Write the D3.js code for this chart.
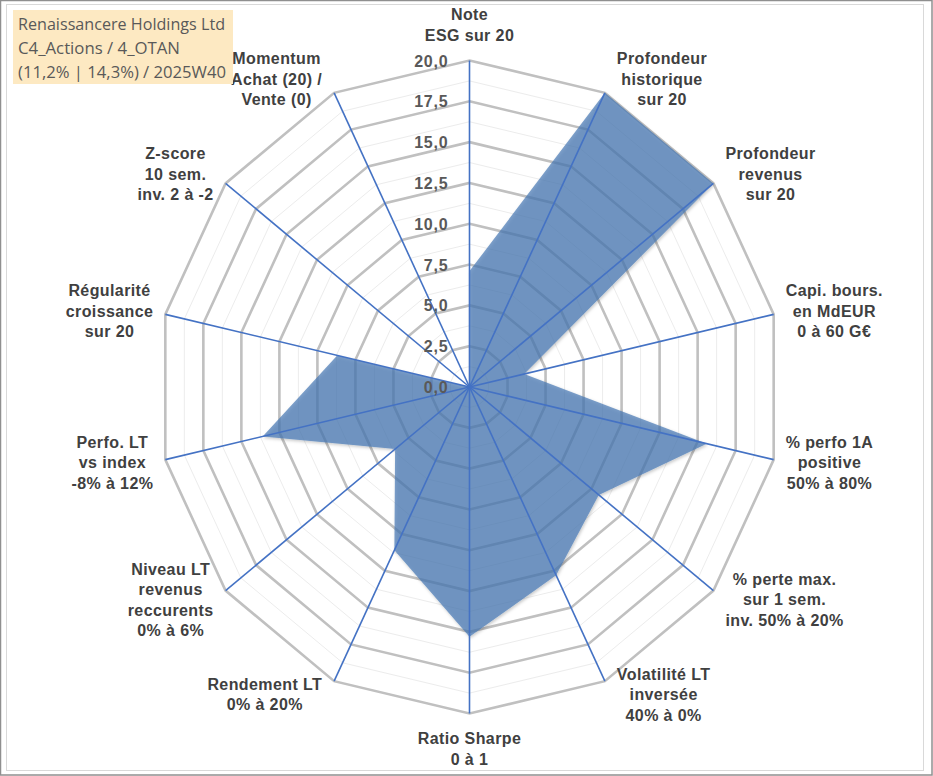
<!DOCTYPE html>
<html>
<head>
<meta charset="utf-8">
<script src="https://cdn.jsdelivr.net/npm/d3@7"></script>
<style>
  body { margin: 0; background: #fff; }
  svg { display: block; }
</style>
</head>
<body>
<div id="chart"></div>
<script>
// chart data
var titleLines = ["Renaissancere Holdings Ltd", "C4_Actions / 4_OTAN", "(11,2% | 14,3%) / 2025W40"];

var categories = [
	["Note", "ESG sur 20"],
	["Profondeur", "historique", "sur 20"],
	["Profondeur", "revenus", "sur 20"],
	["Capi. bours.", "en MdEUR", "0 à 60 G€"],
	["% perfo 1A", "positive", "50% à 80%"],
	["% perte max.", "sur 1 sem.", "inv. 50% à 20%"],
	["Volatilité LT", "inversée", "40% à 0%"],
	["Ratio Sharpe", "0 à 1"],
	["Rendement LT", "0% à 20%"],
	["Niveau LT", "revenus", "reccurents", "0% à 6%"],
	["Perfo. LT", "vs index", "-8% à 12%"],
	["Régularité", "croissance", "sur 20"],
	["Z-score", "10 sem.", "inv. 2 à -2"],
	["Momentum", "Achat (20) /", "Vente (0)"]
];

var scores = [7.1, 20, 20, 3.6, 15.6, 10.6, 12.8, 15.3, 11.1, 6.1, 13.6, 8.7, 0, 0];

var tickValues = [0, 2.5, 5, 7.5, 10, 12.5, 15, 17.5, 20];
var minorValues = [1.25, 3.75, 6.25, 8.75, 11.25, 13.75, 16.25, 18.75];

var W = 933, H = 776;
var cx = 469.5, cy = 387;
var rx = 312, ry = 326.5;   // picture is a little squeezed horizontally

var svg = d3.select("#chart").append("svg")
	.attr("width", W)
	.attr("height", H);

var defs = svg.append("defs");
var shadow = defs.append("filter").attr("id", "shadow")
	.attr("x", "-10%").attr("y", "-10%").attr("width", "120%").attr("height", "120%");
shadow.append("feDropShadow")
	.attr("dx", 1).attr("dy", 1.5).attr("stdDeviation", 1.5)
	.attr("flood-color", "#000").attr("flood-opacity", 0.3);

// frame
svg.append("rect")
	.attr("x", 0.5).attr("y", 0.5).attr("width", W - 1.5).attr("height", H - 1.5)
	.attr("fill", "#fff").attr("stroke", "#8f8f8f").attr("stroke-width", 1.5);
svg.append("rect")
	.attr("x", 6.5).attr("y", 4.5).attr("width", 917).attr("height", 766)
	.attr("fill", "none").attr("stroke", "#d9d9d9").attr("stroke-width", 1);

var r = d3.scaleLinear().domain([0, 20]).range([0, 1]);
var angle = d3.scaleLinear().domain([0, categories.length]).range([0, 2 * Math.PI]);

function pt(i, v) {
	var a = angle(i);
	return [cx + rx * r(v) * Math.sin(a), cy - ry * r(v) * Math.cos(a)];
}

function ring(v) {
	return d3.range(categories.length).map(function(i) { return pt(i, v); });
}

var line = d3.line().curve(d3.curveLinearClosed);

var g = svg.append("g");

// grid rings
g.selectAll(".minor")
	.data(minorValues)
  .enter().append("path")
	.attr("class", "minor")
	.attr("d", function(d) { return line(ring(d)); })
	.attr("fill", "none")
	.attr("stroke", "#ececec")
	.attr("stroke-width", 1);

g.selectAll(".major")
	.data(tickValues.filter(function(d) { return d > 0; }))
  .enter().append("path")
	.attr("class", "major")
	.attr("d", function(d) { return line(ring(d)); })
	.attr("fill", "none")
	.attr("stroke", "#c0c0c0")
	.attr("stroke-width", 2.6)
	.attr("stroke-linejoin", "miter");

// data area
g.append("path")
	.datum(scores)
	.attr("d", function(d) { return line(d.map(function(v, i) { return pt(i, v); })); })
	.attr("fill", "rgb(70,120,180)")
	.attr("fill-opacity", 0.7)
	.attr("filter", "url(#shadow)");

// spokes
g.selectAll(".spoke")
	.data(categories)
  .enter().append("line")
	.attr("class", "spoke")
	.attr("x1", cx).attr("y1", cy)
	.attr("x2", function(d, i) { return pt(i, 20)[0]; })
	.attr("y2", function(d, i) { return pt(i, 20)[1]; })
	.attr("stroke", "#4472c4")
	.attr("stroke-width", 1.6);

// tick labels
var fmt = function(v) { return d3.format(".1f")(v).replace(".", ","); };
g.selectAll(".tick")
	.data(tickValues)
  .enter().append("text")
	.attr("class", "tick")
	.attr("x", cx - 21)
	.attr("y", function(d) { return pt(0, d)[1] + 6; })
	.attr("text-anchor", "end")
	.style("font-family", "'Liberation Sans', Arial, sans-serif")
	.style("font-weight", "bold")
	.style("font-size", "16px")
	.style("letter-spacing", "0.8px")
	.attr("fill", "#595959")
	.text(fmt);

// category labels
var lh = 20.5, gap = 12;
var labels = g.selectAll(".cat")
	.data(categories)
  .enter().append("text")
	.attr("class", "cat")
	.attr("text-anchor", "middle")
	.style("font-family", "'Liberation Sans', Arial, sans-serif")
	.style("font-weight", "bold")
	.style("font-size", "16px")
	.style("letter-spacing", "0.4px")
	.attr("fill", "#404040");

labels.each(function(d, i) {
	var t = d3.select(this);
	var halfW = 0;
	d.forEach(function(s) {
		var ts = t.append("tspan").text(s);
		halfW = Math.max(halfW, ts.node().getComputedTextLength() / 2);
	});
	var a = angle(i);
	var s = Math.sin(a), c = Math.cos(a);
	var e = pt(i, 20);
	var x, y;
	if (Math.abs(s) < 0.1) {
		x = e[0];
		y = e[1] - c * ((d.length * lh) / 2 + 15);
	} else {
		x = e[0] + (s > 0 ? 1 : -1) * (halfW + gap);
		y = e[1] - c * 15;
	}
	var y0 = y - (d.length - 1) * lh / 2 + 5.5;
	t.selectAll("tspan")
		.attr("x", x)
		.attr("y", function(dd, k) { return y0 + k * lh; });
});

// title box
var tb = svg.append("g");
tb.append("rect")
	.attr("x", 13).attr("y", 10).attr("width", 220).attr("height", 74)
	.attr("fill", "#fde9c2");
var titleWidths = [207, 162, 208];
tb.selectAll("text")
	.data(titleLines)
  .enter().append("text")
	.attr("x", 18)
	.attr("y", function(d, i) { return 30 + i * 24; })
	.attr("textLength", function(d, i) { return titleWidths[i]; })
	.attr("lengthAdjust", "spacingAndGlyphs")
	.style("font-family", "'Open Sans', 'Noto Sans', sans-serif")
	.style("font-size", "16px")
	.attr("fill", "#595959")
	.text(function(d) { return d; });
</script>
</body>
</html>
